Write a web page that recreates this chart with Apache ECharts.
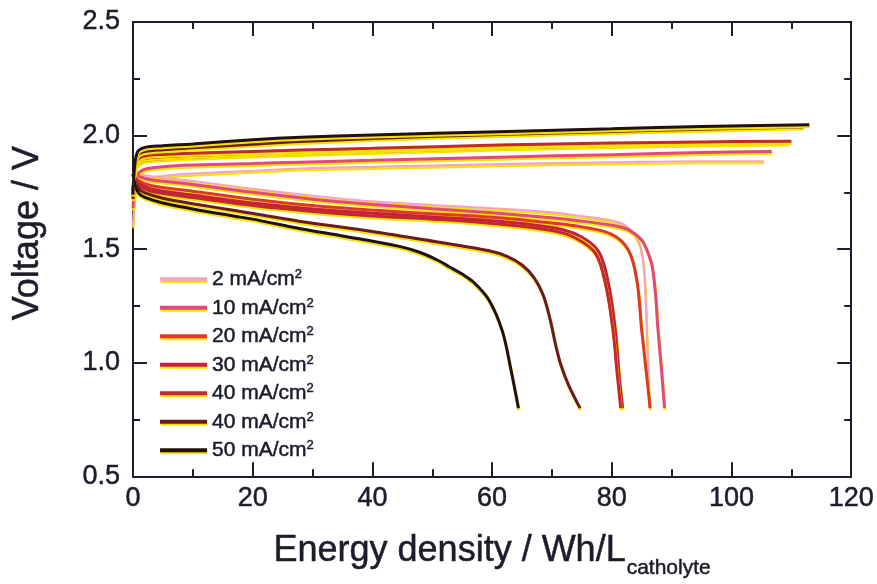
<!DOCTYPE html>
<html>
<head>
<meta charset="utf-8">
<script src="https://cdn.jsdelivr.net/npm/echarts@6/dist/echarts.min.js"></script>
<style>
  html, body { margin: 0; padding: 0; background: #ffffff; }
  #chart { width: 877px; height: 584px; }
</style>
</head>
<body>
<div id="chart"></div>
<script>
// Current densities (mA/cm²) of the seven charge/discharge runs
const currents = [2, 10, 20, 30, 40, 40, 50];

// Axis ranges and tick spacing
const xRange = [0, 120];
const xStep = 20;
const yRange = [0.5, 2.5];
const yStep = 0.5;

// Charge curves: [energy density (Wh/L), voltage (V)]
const charge2 = [[0,1.60],[0.3,1.72],[0.8,1.79],[2,1.81],[5,1.822],[10,1.832],[20,1.845],[28,1.855],[40,1.862],[50,1.868],[61,1.874],[80,1.882],[95,1.887],[105.4,1.887]];
const charge10 = [[0,1.68],[0.3,1.78],[0.8,1.83],[2,1.852],[5,1.863],[10,1.870],[20,1.877],[28,1.883],[40,1.891],[61,1.905],[80,1.916],[95,1.925],[106.7,1.930]];
const charge20 = [[0,1.74],[0.3,1.83],[0.8,1.875],[2,1.89],[5,1.898],[10,1.905],[20,1.914],[28,1.921],[40,1.930],[61,1.945],[80,1.956],[95,1.963],[109.5,1.967]];
const charge30 = [[0,1.75],[0.3,1.84],[0.8,1.885],[2,1.90],[5,1.907],[10,1.913],[20,1.922],[28,1.929],[40,1.938],[61,1.953],[80,1.963],[95,1.969],[109.8,1.972]];
const charge40a = [[0,1.76],[0.3,1.85],[0.8,1.895],[2,1.91],[5,1.917],[10,1.922],[20,1.930],[28,1.936],[40,1.944],[61,1.958],[80,1.967],[95,1.972],[110,1.975]];
const charge40b = [[0,1.72],[0.3,1.86],[0.8,1.915],[2,1.93],[5,1.938],[10,1.946],[20,1.962],[28,1.974],[40,1.987],[61,2.005],[80,2.018],[95,2.028],[112,2.038]];
const charge50 = [[0,1.74],[0.3,1.87],[0.8,1.93],[2,1.948],[5,1.955],[10,1.963],[20,1.982],[28,1.993],[40,2.003],[61,2.017],[80,2.030],[95,2.040],[113,2.048]];

// Discharge curves: [energy density (Wh/L), voltage (V)]
const discharge2 = [[0,1.84],[1,1.83],[3,1.82],[10,1.80],[20,1.765],[30,1.735],[40,1.71],[50,1.694],[60,1.68],[70,1.662],[75,1.645],[80,1.625],[82.5,1.60],[84.5,1.53],[85.3,1.43],[85.7,1.25],[85.9,1.10],[86.1,0.95],[86.3,0.80]];
const discharge10 = [[0,1.84],[1,1.82],[3,1.805],[10,1.785],[20,1.75],[30,1.72],[40,1.697],[50,1.678],[60,1.66],[70,1.638],[74.5,1.625],[80,1.605],[82.8,1.585],[85,1.54],[85.8,1.50],[86.7,1.43],[87.3,1.30],[87.7,1.15],[88.2,1.00],[88.8,0.80]];
const discharge20 = [[0,1.83],[1,1.80],[3,1.78],[10,1.755],[20,1.72],[30,1.692],[40,1.672],[50,1.656],[60,1.64],[70,1.615],[75,1.598],[80,1.565],[82.8,1.495],[84.2,1.36],[85,1.14],[85.8,0.95],[86.4,0.80]];
const discharge30 = [[0,1.83],[1,1.79],[3,1.765],[10,1.738],[20,1.703],[30,1.677],[40,1.658],[50,1.642],[60,1.625],[70,1.595],[74.5,1.56],[77.8,1.49],[79.5,1.34],[80.6,1.14],[81.2,0.95],[81.8,0.80]];
const discharge40a = [[0,1.83],[1,1.78],[3,1.755],[10,1.727],[20,1.692],[30,1.666],[40,1.646],[50,1.632],[60,1.613],[70,1.582],[74,1.548],[77.3,1.48],[79,1.34],[80.2,1.14],[80.9,0.95],[81.5,0.80]];
const discharge40b = [[0,1.83],[0.5,1.79],[1,1.765],[2,1.748],[5,1.724],[10,1.70],[17,1.67],[28,1.622],[40,1.578],[51.2,1.53],[59.5,1.493],[62.5,1.468],[65,1.43],[67,1.375],[68.5,1.30],[69.7,1.19],[70.6,1.08],[71.5,0.99],[72.8,0.90],[74.7,0.80]];
const discharge50 = [[0,1.83],[0.5,1.77],[1,1.745],[2,1.728],[5,1.703],[10,1.677],[17,1.645],[20,1.632],[28,1.59],[35,1.558],[44.5,1.512],[48,1.485],[51,1.45],[53,1.42],[55,1.39],[57,1.352],[59.5,1.275],[61.7,1.14],[63.1,0.975],[64.4,0.80]];

const chargeCurves = [charge2, charge10, charge20, charge30, charge40a, charge40b, charge50];
const dischargeCurves = [discharge2, discharge10, discharge20, discharge30, discharge40a, discharge40b, discharge50];

// Line colours, light pink (low current) to near black (high current)
const lineColors = ['#f5a3bf', '#e2497a', '#db3a2b', '#c81f40', '#c02a2a', '#6b1a22', '#231015'];
const lineWidths = [2.2, 3, 3, 3, 3, 3, 3];

const inkColor = '#1c1c2a';
const misprint = '#f3e400';
const fontFamily = 'Liberation Sans, Arial, Helvetica, sans-serif';

const runNames = currents.map((c, i) => 'run' + i);

const series = [];
currents.forEach((c, i) => {
  [chargeCurves[i], dischargeCurves[i]].forEach((curve) => {
    series.push({
      name: runNames[i],
      type: 'line',
      data: curve,
      showSymbol: false,
      symbol: 'none',
      smooth: 0.35,
      z: 2 + i,
      lineStyle: {
        color: lineColors[i],
        width: lineWidths[i],
        shadowColor: misprint,
        shadowOffsetX: 0.5,
        shadowOffsetY: 2,
        shadowBlur: 0
      },
      itemStyle: { color: lineColors[i] },
      emphasis: { disabled: true }
    });
  });
});

// Inked text: slight outline thickens the glyphs, yellow offset copy underneath
const inkText = {
  color: inkColor, fontFamily: fontFamily,
  textBorderColor: inkColor, textBorderWidth: 0.5,
  textShadowColor: misprint, textShadowOffsetX: 1, textShadowOffsetY: 1, textShadowBlur: 0
};

const axisLineStyle = { color: inkColor, width: 2 };

function frameAxis(extra) {
  return Object.assign({
    type: 'value',
    axisLine: { show: true, onZero: false, lineStyle: axisLineStyle },
    axisTick: { show: true, inside: true, length: 14, lineStyle: { color: inkColor, width: 2 } },
    minorTick: { show: true, splitNumber: 2, length: 7, lineStyle: { color: inkColor, width: 2 } },
    splitLine: { show: false },
    minorSplitLine: { show: false }
  }, extra);
}

const chart = echarts.init(document.getElementById('chart'), null, { renderer: 'canvas' });
chart.setOption({
  animation: false,
  backgroundColor: '#ffffff',
  grid: { left: 133, right: 24, top: 22, bottom: 106, containLabel: false },
  legend: {
    orient: 'vertical',
    left: 155,
    top: 263,
    padding: 5,
    icon: 'rect',
    itemWidth: 47,
    itemHeight: 4,
    itemGap: 6.5,
    data: runNames,
    selectedMode: false,
    itemStyle: { shadowColor: misprint, shadowOffsetY: 2, shadowOffsetX: 0.5, shadowBlur: 0 },
    formatter: (name) => '{t|' + currents[runNames.indexOf(name)] + ' mA/cm}{s|2}',
    textStyle: {
      color: inkColor,
      fontFamily: fontFamily,
      rich: {
        t: Object.assign({ fontSize: 21, lineHeight: 22 }, inkText),
        s: Object.assign({ fontSize: 13, lineHeight: 13, verticalAlign: 'top' }, inkText)
      }
    }
  },
  xAxis: [
    frameAxis({
      position: 'bottom',
      min: xRange[0], max: xRange[1], interval: xStep,
      axisLabel: Object.assign({ margin: 9, fontSize: 27 }, inkText),
      name: '{a|Energy density / Wh/L}{b|catholyte}',
      nameLocation: 'middle',
      nameGap: 57,
      nameTextStyle: {
        rich: {
          a: Object.assign({ fontSize: 36, lineHeight: 36 }, inkText),
          b: Object.assign({ fontSize: 21, lineHeight: 21, padding: [34, 0, 0, 1] }, inkText)
        }
      }
    }),
    frameAxis({
      position: 'top',
      min: xRange[0], max: xRange[1], interval: xStep,
      axisLabel: { show: false }
    })
  ],
  yAxis: [
    frameAxis({
      position: 'left',
      min: yRange[0], max: yRange[1], interval: yStep,
      axisLabel: Object.assign({ margin: 13, fontSize: 27, formatter: (v) => v.toFixed(1) }, inkText),
      name: 'Voltage / V',
      nameLocation: 'middle',
      nameGap: 87,
      nameTextStyle: Object.assign({ fontSize: 36, padding: [0, 0, 0, 32] }, inkText)
    }),
    frameAxis({
      position: 'right',
      min: yRange[0], max: yRange[1], interval: yStep,
      axisLabel: { show: false }
    })
  ],
  series: series
});
</script>
</body>
</html>
